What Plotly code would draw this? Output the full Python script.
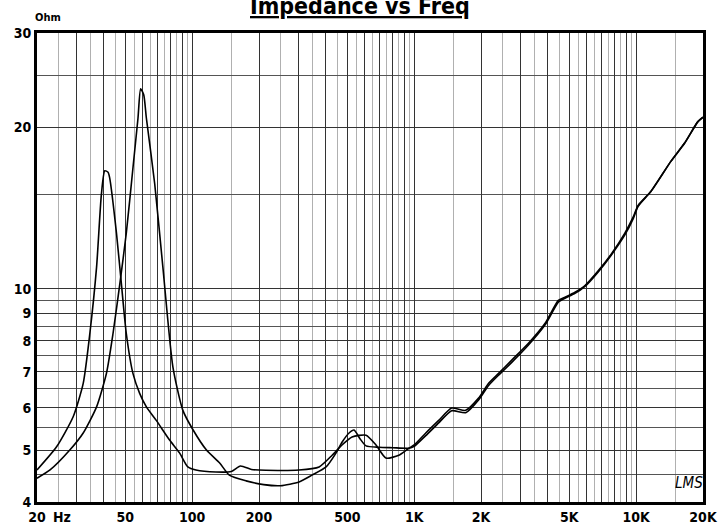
import math
import plotly.graph_objects as go

# ---------------- data ----------------
freq_a = [20, 24.5, 29.1, 32.3, 34.6, 37.1, 39.0, 40.4, 41.8, 42.5, 45.6, 48.0, 50.5, 54.1, 58.0,
          62.2, 68.9, 79.1, 87.7, 95.6, 104, 128, 150, 165, 185, 200, 303, 373, 427, 473,
          525, 607, 673, 746, 853, 946, 1000,
          1128, 1290, 1476, 1706, 1950, 2164, 2400, 2745, 3272, 3889, 4462, 4782, 5302, 5880,
          6746, 7718, 8892, 9688, 10204, 11668, 14354, 16536, 18972, 20000]
imp_a = [4.59, 5.07, 5.77, 6.66, 8.25, 10.97, 15.0, 16.6, 16.5, 16.1, 12.7, 10.2, 8.25, 6.95, 6.38,
         6.02, 5.68, 5.22, 4.94, 4.65, 4.59, 4.55, 4.56, 4.67, 4.60, 4.59, 4.59, 4.65, 4.89, 5.11,
         5.29, 5.33, 5.11, 4.83, 4.89, 5.04, 5.11,
         5.38, 5.68, 5.99, 5.93, 6.25, 6.66, 6.95, 7.35, 7.91, 8.62, 9.51, 9.64, 9.85, 10.14,
         10.8, 11.6, 12.7, 13.6, 14.3, 15.2, 17.3, 18.7, 20.5, 20.9]

freq_b = [20, 22.9, 28.1, 32.3, 37.1, 41.1, 44.0, 47.2, 50.5, 54.1, 57.0, 58.6, 60.5, 62.2, 67.8,
          73.8, 81.9, 90.8, 101, 116, 133, 147, 175, 210, 250, 303, 347, 401, 445, 473,
          509, 536, 570, 607, 694, 800, 946, 1000,
          1128, 1290, 1476, 1706, 1950, 2164, 2400, 2745, 3272, 3889, 4462, 4782, 5302, 5880,
          6746, 7718, 8892, 9688, 10204, 11668, 14354, 16536, 18972, 20000]
imp_b = [4.43, 4.59, 5.0, 5.38, 6.02, 6.95, 8.25, 10.2, 12.7, 16.8, 20.8, 23.6, 23.0, 20.8, 15.7,
         10.97, 7.14, 5.93, 5.45, 5.0, 4.73, 4.49, 4.38, 4.31, 4.29, 4.36, 4.49, 4.65, 4.94, 5.17,
         5.38, 5.45, 5.25, 5.09, 5.06, 5.05, 5.04, 5.08,
         5.32, 5.62, 5.92, 5.87, 6.2, 6.6, 6.9, 7.28, 7.85, 8.56, 9.44, 9.6, 9.8, 10.1,
         10.75, 11.55, 12.6, 13.5, 14.25, 15.2, 17.3, 18.7, 20.5, 20.9]

x_major = [20, 30, 40, 50, 60, 70, 80, 90, 100, 200, 300, 400, 500, 600, 700, 800, 900,
           1000, 2000, 3000, 4000, 5000, 6000, 7000, 8000, 9000, 10000, 20000]
x_labels = {20: "20", 50: "50", 100: "100", 200: "200", 500: "500", 1000: "1K",
            2000: "2K", 5000: "5K", 10000: "10K", 20000: "20K"}
x_minor = [25, 35, 45, 55, 65, 75, 85, 95, 150, 250, 350, 450, 550, 650, 750, 850, 950,
           1500, 2500, 3500, 4500, 5500, 6500, 7500, 8500, 9500, 15000]
y_major = [4, 5, 6, 7, 8, 9, 10, 20, 30]
y_minor = [4.5, 5.5, 6.5, 7.5, 8.5, 9.5, 15, 25]
y_bold = [7, 9]

FONT = "Liberation Sans Narrow, Arial Narrow, DejaVu Sans Condensed, Liberation Sans, sans-serif"

fig = go.Figure()
fig.add_trace(go.Scatter(x=freq_a, y=imp_a, mode="lines",
                         line=dict(color="black", width=1.6, shape="spline", smoothing=0.6),
                         showlegend=False, hoverinfo="skip"))
fig.add_trace(go.Scatter(x=freq_b, y=imp_b, mode="lines",
                         line=dict(color="black", width=1.6, shape="spline", smoothing=0.6),
                         showlegend=False, hoverinfo="skip"))

for yv in y_bold:
    fig.add_shape(type="line", xref="paper", x0=0, x1=1, yref="y",
                  y0=math.log10(yv), y1=math.log10(yv),
                  line=dict(color="black", width=2.5), layer="below")

fig.update_layout(
    width=727, height=525,
    margin=dict(l=37, r=24, t=33, b=23),
    paper_bgcolor="white", plot_bgcolor="white",
    font=dict(family=FONT, color="black"),
    xaxis=dict(type="log", range=[math.log10(20), math.log10(20000)],
               tickmode="array", tickvals=x_major,
               ticktext=[x_labels.get(v, "") for v in x_major],
               ticks="", showgrid=True, gridcolor="#333333", gridwidth=1.4,
               minor=dict(tickmode="array", tickvals=x_minor, showgrid=True,
                          gridcolor="#b0b0b0", gridwidth=1.4, ticks=""),
               showline=True, mirror=True, linecolor="black", linewidth=3,
               tickfont=dict(family=FONT, size=14, weight="bold", color="black"),
               zeroline=False, fixedrange=True, automargin=False),
    yaxis=dict(type="log", range=[math.log10(4), math.log10(30)],
               tickmode="array", tickvals=y_major, ticktext=[str(v) for v in y_major],
               ticks="", showgrid=True, gridcolor="#333333", gridwidth=1.4,
               minor=dict(tickmode="array", tickvals=y_minor, showgrid=True,
                          gridcolor="#555555", gridwidth=1.4, ticks=""),
               showline=True, mirror=True, linecolor="black", linewidth=3,
               tickfont=dict(family=FONT, size=14, weight="bold", color="black"),
               zeroline=False, fixedrange=True, automargin=False),
    annotations=[
        dict(text="<b><u>Impedance vs Freq</u></b>", xref="paper", yref="paper",
             x=(360 - 37) / 666, y=(502 - 21) / 469, xanchor="center", yanchor="bottom",
             showarrow=False, font=dict(family=FONT, size=23, color="black")),
        dict(text="<b>Ohm</b>", xref="paper", yref="paper",
             x=(48 - 37) / 666, y=(502 - 17) / 469, xanchor="center", yanchor="middle",
             showarrow=False, font=dict(family=FONT, size=11, color="black")),
        dict(text="<b>Hz</b>", xref="paper", yref="paper",
             x=(62 - 37) / 666, y=(502 - 517) / 469, xanchor="center", yanchor="middle",
             showarrow=False, font=dict(family=FONT, size=14, color="black")),
        dict(text="<i>LMS</i>", xref="paper", yref="paper",
             x=(689 - 37) / 666, y=(502 - 483) / 469, xanchor="center", yanchor="middle",
             showarrow=False, font=dict(family=FONT, size=15, color="black")),
    ],
)

fig.write_html("out.html", config={"displayModeBar": False},
               post_script="document.body.style.margin='0';")
